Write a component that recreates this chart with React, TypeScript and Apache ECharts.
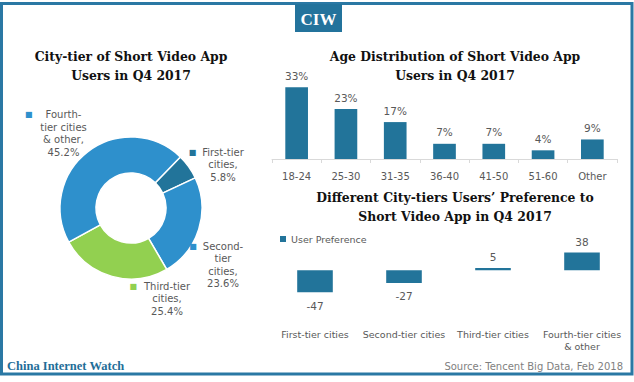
import React, { useEffect, useRef } from "react";
import * as echarts from "echarts";

// ---- Data ----
const tierNames = ["First-tier\ncities", "Second-\ntier\ncities", "Third-tier\ncities", "Fourth-\ntier cities\n& other"];
const tierShares = [5.8, 23.6, 25.4, 45.2];

const ageCategories = ["18-24", "25-30", "31-35", "36-40", "41-50", "51-60", "Other"];
const ageShares = [33, 23, 17, 7, 7, 4, 9];

const prefCategories = ["First-tier cities", "Second-tier cities", "Third-tier cities", "Fourth-tier cities\n& other"];
const prefValues = [-47, -27, 5, 38];

// ---- Styles ----
const tierColors = ["#22749a", "#2e90cc", "#92d050", "#2e90cc"];
const pieLabelPos = [[223, 164.5], [223, 265], [167, 298.5], [63.5, 133.5]];
const pieLabelGap = [6, 6, 7, 13];
const BAR = "#22749a";
const GRAY = "#595959";
const SANS = "DejaVu Sans";
const SERIF = "Liberation Serif";
const TITLE_FONT = "DejaVu Serif";

export default function App() {
  const ref = useRef<HTMLDivElement>(null);
  useEffect(() => {
    if (!ref.current) return;
    const chart = echarts.init(ref.current, null, { renderer: "svg" });
    const rich: any = { t: { fontSize: 10, color: GRAY, fontFamily: SANS, lineHeight: 12.5 } };
    tierColors.forEach((c, i) => {
      rich["s" + i] = { fontSize: 8, color: c, lineHeight: 12.5, padding: [0, pieLabelGap[i], 0, 0] };
      rich["h" + i] = { fontSize: 8, color: "rgba(0,0,0,0)", lineHeight: 12.5, padding: [0, 0, 0, pieLabelGap[i]] };
    });
    const titleStyle = { fontFamily: TITLE_FONT, fontWeight: "bold", fontSize: 12.4, lineHeight: 19, color: "#111" };
    const option: any = {
      animation: false,
      title: [
        { text: "City-tier of Short Video App\nUsers in Q4 2017", left: 131, top: 47, padding: 0, textAlign: "center", textStyle: titleStyle },
        { text: "Age Distribution of Short Video App\nUsers in Q4 2017", left: 455, top: 47, padding: 0, textAlign: "center", textStyle: titleStyle },
        {
          text: "Different City-tiers Users\u2019 Preference to\nShort Video App in Q4 2017",
          left: 455, top: 187.5, padding: 0, textAlign: "center", textStyle: titleStyle,
        },
      ],
      legend: {
        data: ["User Preference"],
        left: 280, top: 234,
        icon: "rect", itemWidth: 6, itemHeight: 6, padding: 0,
        textStyle: { fontFamily: SANS, fontSize: 9.5, color: GRAY },
      },
      grid: [
        { left: 272, right: 17, top: 83, bottom: 223 },
        { left: 270.5, right: 7.5, top: 247, bottom: 60.4 },
      ],
      xAxis: [
        {
          gridIndex: 0, type: "category", data: ageCategories,
          axisLine: { lineStyle: { color: "#d9d9d9" } },
          axisTick: { show: true, length: 4, lineStyle: { color: "#d9d9d9" } },
          axisLabel: { fontFamily: SANS, fontSize: 10, color: GRAY, margin: 12 },
        },
        {
          gridIndex: 1, type: "category", data: prefCategories,
          axisLine: { show: false, onZero: false }, axisTick: { show: false },
          axisLabel: { fontFamily: SANS, fontSize: 9.5, color: GRAY, margin: 7, lineHeight: 12, interval: 0 },
        },
      ],
      yAxis: [
        { gridIndex: 0, type: "value", min: 0, max: 35, show: false },
        { gridIndex: 1, type: "value", min: -110, max: 50, show: false },
      ],
      series: [
        {
          type: "pie",
          center: [131, 208], radius: [35, 71],
          startAngle: 46,
          itemStyle: { borderColor: "#fff", borderWidth: 1.5 },
          labelLine: { show: false },
          label: {
            show: true, position: "outside", overflow: "none", width: 200,
            fontFamily: SANS, fontSize: 10, color: GRAY, lineHeight: 12.5, align: "center",
            rich,
            formatter: (p: any) => {
              const lines = String(p.name).split("\n");
              const first = lines.shift();
              const i = p.dataIndex;
              const rest = lines.length ? "\n" + lines.join("\n") : "";
              return `{s${i}|\u25A0}{t|${first}}{h${i}|\u25A0}${rest},\n${p.value.toFixed(1)}%`;
            },
          },
          labelLayout: (p: any) => ({
            x: pieLabelPos[p.dataIndex][0], y: pieLabelPos[p.dataIndex][1],
            align: "center", verticalAlign: "middle",
          }),
          data: tierNames.map((n, i) => ({ name: n, value: tierShares[i], itemStyle: { color: tierColors[i] } })),
        },
        {
          type: "bar", xAxisIndex: 0, yAxisIndex: 0,
          data: ageShares, barWidth: "46%",
          itemStyle: { color: BAR },
          label: { show: true, position: "top", distance: 6, formatter: "{c}%", fontFamily: SANS, fontSize: 10.5, color: GRAY },
        },
        {
          type: "bar", name: "User Preference", xAxisIndex: 1, yAxisIndex: 1,
          data: prefValues.map((v) => ({
            value: v,
            label: { position: v < 0 ? "bottom" : "top", distance: v < 0 ? 8 : 5 },
          })),
          barWidth: "40%",
          itemStyle: { color: BAR },
          label: { show: true, fontFamily: SANS, fontSize: 10.5, color: GRAY },
        },
      ],
      graphic: [
        {
          type: "rect", shape: { x: 1.5, y: 3.5, width: 630.5, height: 370.5 },
          style: { fill: "none", stroke: "#2a78a4", lineWidth: 3 }, z: 10,
        },
        { type: "rect", shape: { x: 295, y: 4, width: 47, height: 28 }, style: { fill: "#23739c" }, z: 11 },
        {
          type: "text", x: 318.5, y: 19, z: 12,
          style: { text: "CIW", fill: "#fff", font: `bold 17px "${SERIF}"`, align: "center", verticalAlign: "middle" },
        },
        {
          type: "text", x: 7, y: 366,
          style: { text: "China Internet Watch", fill: "#1f6e98", font: `bold 12.5px "${SERIF}"`, align: "left", verticalAlign: "middle" },
        },
        {
          type: "text", x: 623, y: 366,
          style: { text: "Source: Tencent Big Data, Feb 2018", fill: "#7f7f7f", font: `10px "${SANS}"`, align: "right", verticalAlign: "middle" },
        },
      ],
    };
    chart.setOption(option);
    return () => chart.dispose();
  }, []);
  return (
    <div
      ref={ref}
      style={{ position: "fixed", left: 0, top: 0, width: 634, height: 382, background: "#fff" }}
    />
  );
}
